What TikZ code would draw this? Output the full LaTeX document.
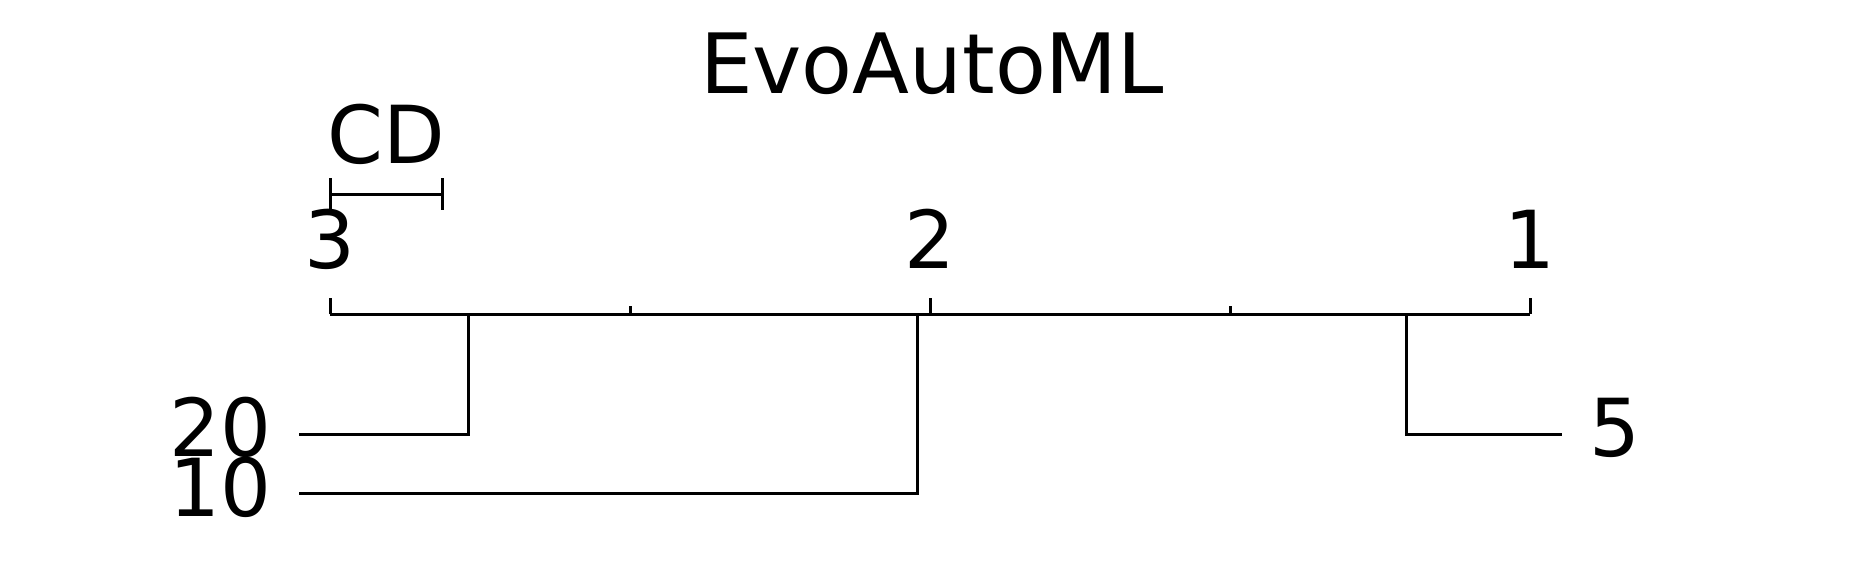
\documentclass[tikz,border=0pt]{standalone}
\usepackage{fontspec}
\setmainfont{DejaVu Sans}
\begin{document}
\begin{tikzpicture}[x=0.25pt,y=-0.25pt,
  lbl/.style={inner sep=0pt,outer sep=0pt,font=\fontsize{20}{24}\selectfont},
  ttl/.style={inner sep=0pt,outer sep=0pt,font=\fontsize{20.8}{25}\selectfont},
  ln/.style={line width=0.75pt,line cap=butt,line join=miter}]
\useasboundingbox (0,0) rectangle (1859,584);
% title
\node[ttl,anchor=base] (title) at (932,93.3) {EvoAutoML};
% CD bar
\coordinate (cdl) at (330,194.3);
\coordinate (cdr) at (442.3,194.3);
\node[lbl,anchor=base] (cd) at (386,164) {CD};
\draw[ln] (cdl) -- (cdr);
\draw[ln] ([yshift=16*0.25pt]cdl) -- ([yshift=-15.7*0.25pt]cdl);
\draw[ln] ([yshift=16*0.25pt]cdr) -- ([yshift=-15.7*0.25pt]cdr);
% axis
\coordinate (a3) at (330,314.3);
\coordinate (a25) at (630,314.3);
\coordinate (a2) at (930,314.3);
\coordinate (a15) at (1230,314.3);
\coordinate (a1) at (1530,314.3);
\draw[ln] (a3) -- (a1);
\foreach \c in {a3,a2,a1}{\draw[ln] (\c) -- ++(0,-16);}
\foreach \c in {a25,a15}{\draw[ln] (\c) -- ++(0,-8.5);}
\node[lbl,anchor=base] (t3) at (330,268.5) {3};
\node[lbl,anchor=base] (t2) at (930,268.5) {2};
\node[lbl,anchor=base] (t1) at (1530,268.5) {1};
% method labels
\node[lbl,anchor=base east] (m20) at (271,456.7) {20};
\node[lbl,anchor=base east] (m10) at (271,516.7) {10};
\node[lbl,anchor=base west] (m5) at (1589,456.7) {5};
% connectors
\coordinate (j20) at (468.3,314.3);
\coordinate (j10) at (917.7,314.3);
\coordinate (j5) at (1406,314.3);
\coordinate (e20) at (299,434.3);
\coordinate (e10) at (299,494);
\coordinate (e5) at (1561.7,434.3);
\draw[ln] (j20) |- (e20);
\draw[ln] (j10) |- (e10);
\draw[ln] (j5) |- (e5);
\end{tikzpicture}
\end{document}
